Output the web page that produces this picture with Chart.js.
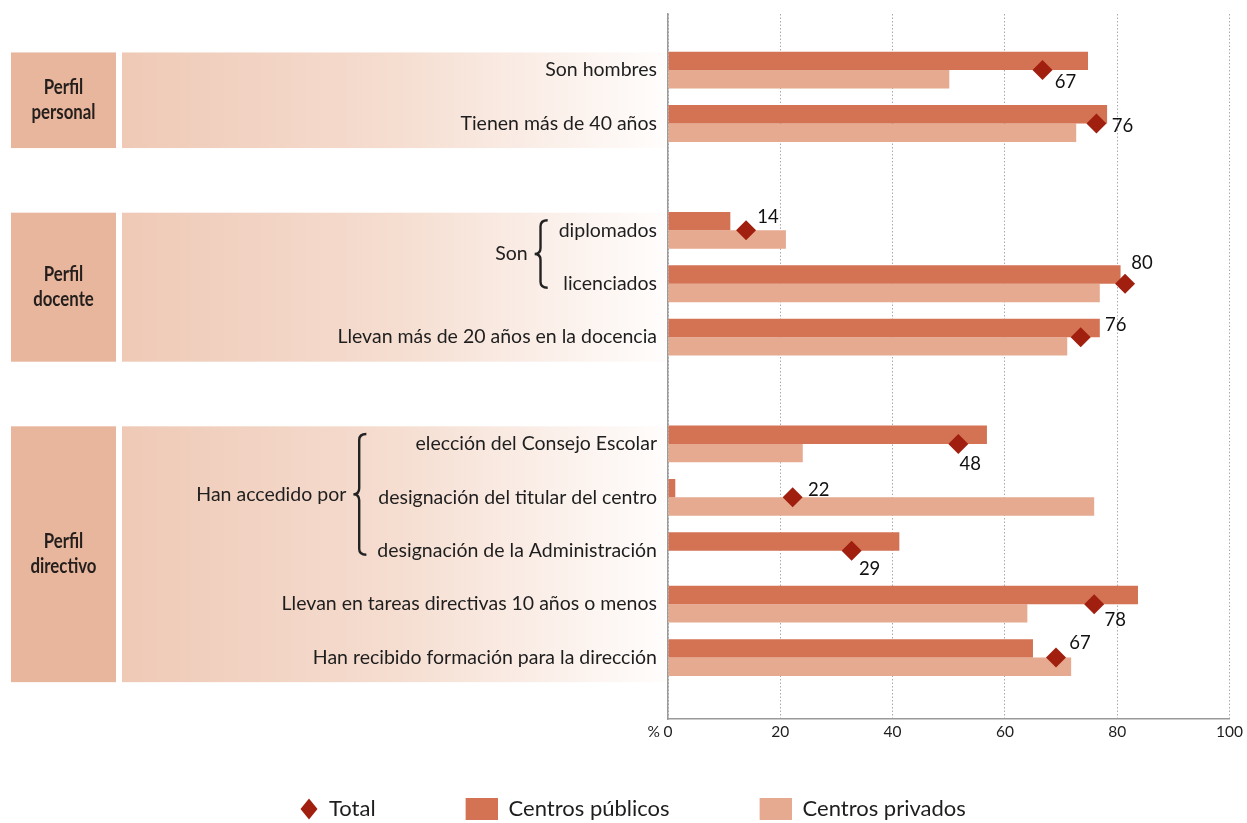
<!DOCTYPE html>
<html lang="es">
<head>
<meta charset="utf-8">
<title>Perfil del profesorado y de la dirección</title>
<script src="https://cdn.jsdelivr.net/npm/chart.js@4.4.1/dist/chart.umd.min.js"></script>
<style>
  html, body { margin: 0; padding: 0; background: #fff; }
  #wrap { width: 1247px; height: 823px; }
</style>
</head>
<body>
<div id="wrap"><canvas id="chart" width="1247" height="823"></canvas></div>
<script>
// Rows from top to bottom; empty strings are the gaps between groups
const rowLabels = [
  'Son hombres',
  'Tienen más de 40 años',
  '',
  'diplomados',
  'licenciados',
  'Llevan más de 20 años en la docencia',
  '',
  'elección del Consejo Escolar',
  'designación del titular del centro',
  'designación de la Administración',
  'Llevan en tareas directivas 10 años o menos',
  'Han recibido formación para la dirección'
];

// Values (%)
const publicos = [74.8, 78.2, null, 11.1, 80.6, 76.9, null, 56.8, 1.3, 41.2, 83.7, 65.0];
const privados = [50.1, 72.7, null, 21.0, 76.9, 71.1, null, 24.0, 75.9, 0, 64.0, 71.8];
const totalValues = [66.7, 76.3, null, 13.9, 81.4, 73.5, null, 51.7, 22.2, 32.7, 75.9, 69.1];
const totalLabels = ['67', '76', '', '14', '80', '76', '', '48', '22', '29', '78', '67'];
const xTicks = [0, 20, 40, 60, 80, 100];

const groups = [
  { title: ['Perfil', 'personal'], first: 0, last: 1 },
  { title: ['Perfil', 'docente'], first: 3, last: 5 },
  { title: ['Perfil', 'directivo'], first: 7, last: 11 }
];
const braces = [
  { text: 'Son', first: 3, last: 4 },
  { text: 'Han accedido por', first: 7, last: 9 }
];

// where each total label sits relative to its diamond (px)
const labelOffsets = [[23, 12], [26, 3], null, [22, -13], [17, -21], [35, -12], null,
  [12, 20], [26, -7], [18, 18], [21, 16], [24, -15]];

const colPublico = '#d47353';
const colPrivado = '#e6aa90';
const colTotal = '#a01f0f';
const FONT = 'Lato';

Chart.defaults.font.family = FONT;
Chart.defaults.color = '#1e1e1e';

function toPoints(values) {
  const pts = [];
  values.forEach((v, i) => { if (v !== null) pts.push({ x: v, y: i }); });
  return pts;
}

// legend symbols: drawn at the right edge of a wide box so the items space out like the original
const LEG_W = 110;
function legendSymbol(kind, color) {
  const c = document.createElement('canvas');
  c.width = LEG_W; c.height = 22;
  const g = c.getContext('2d');
  g.fillStyle = color;
  if (kind === 'diamond') {
    const cx = LEG_W - 9;
    g.beginPath();
    g.moveTo(cx, 0.5); g.lineTo(cx + 8.5, 11); g.lineTo(cx, 21.5); g.lineTo(cx - 8.5, 11);
    g.closePath(); g.fill();
  } else {
    g.fillRect(LEG_W - 32, 0, 32, 22);
  }
  return c;
}
const legendIcons = [legendSymbol('diamond', colTotal), legendSymbol('rect', colPublico), legendSymbol('rect', colPrivado)];

function drawBrace(ctx, xr, top, bottom, w) {
  const mid = (top + bottom) / 2;
  const xs = xr - w * 0.55, xt = xr - w;
  const r = 6;
  ctx.beginPath();
  ctx.moveTo(xr, top);
  ctx.quadraticCurveTo(xs, top, xs, top + r);
  ctx.lineTo(xs, mid - r);
  ctx.quadraticCurveTo(xs, mid, xt, mid);
  ctx.quadraticCurveTo(xs, mid, xs, mid + r);
  ctx.lineTo(xs, bottom - r);
  ctx.quadraticCurveTo(xs, bottom, xr, bottom);
  ctx.stroke();
}

const sidePanels = {
  id: 'sidePanels',
  beforeDraw(chart) {
    const { ctx, chartArea, scales: { y } } = chart;
    ctx.save();
    groups.forEach(gr => {
      const top = y.getPixelForValue(gr.first - 0.33);
      const bottom = y.getPixelForValue(gr.last + 0.46);
      // group title box
      ctx.fillStyle = '#e8b59d';
      ctx.fillRect(11, top, 105, bottom - top);
      // fading band behind the row labels
      const grad = ctx.createLinearGradient(122, 0, chartArea.left - 2, 0);
      grad.addColorStop(0, '#efc9b6');
      grad.addColorStop(0.5, '#f5ddd0');
      grad.addColorStop(1, '#fffdfc');
      ctx.fillStyle = grad;
      ctx.fillRect(122, top, chartArea.left - 2 - 122, bottom - top);
      // group title, slightly condensed like the original typeface
      const mid = (top + bottom) / 2;
      ctx.save();
      ctx.translate(63.5, mid);
      ctx.scale(0.82, 1);
      ctx.fillStyle = '#241f1c';
      ctx.font = 'bold 20.5px ' + FONT;
      ctx.textAlign = 'center';
      ctx.textBaseline = 'middle';
      ctx.fillText(gr.title[0], 0, -12.5);
      ctx.fillText(gr.title[1], 0, 12.5);
      ctx.restore();
    });
    // braces for the grouped sub-items
    const tickFont = y.options.ticks.font;
    const labelRight = chartArea.left - y.options.ticks.padding;
    braces.forEach(b => {
      ctx.font = tickFont.size + 'px ' + FONT;
      let widest = 0;
      for (let i = b.first; i <= b.last; i++) widest = Math.max(widest, ctx.measureText(rowLabels[i]).width);
      const xr = labelRight - widest - 11;
      const top = y.getPixelForValue(b.first) - 10;
      const bottom = y.getPixelForValue(b.last) + 4;
      ctx.strokeStyle = '#222';
      ctx.lineWidth = 2.4;
      drawBrace(ctx, xr, top, bottom, 13);
      ctx.fillStyle = '#1e1e1e';
      ctx.textAlign = 'right';
      ctx.textBaseline = 'middle';
      ctx.fillText(b.text, xr - 13 - 7, (top + bottom) / 2);
    });
    ctx.restore();
  },
  afterDatasetsDraw(chart) {
    const { ctx } = chart;
    const meta = chart.getDatasetMeta(0);
    const pts = chart.data.datasets[0].data;
    ctx.save();
    ctx.fillStyle = '#111';
    ctx.font = '18.5px ' + FONT;
    ctx.textAlign = 'center';
    ctx.textBaseline = 'middle';
    meta.data.forEach((el, j) => {
      const row = pts[j].y;
      const off = labelOffsets[row];
      ctx.fillText(totalLabels[row], el.x + off[0], el.y + off[1]);
    });
    // the "%" in front of the first tick
    const x = chart.scales.x;
    ctx.fillStyle = '#1e1e1e';
    ctx.font = '15.5px ' + FONT;
    ctx.textAlign = 'right';
    ctx.fillText('%', x.left - 8, x.top + 13);
    ctx.restore();
  }
};

const chart = new Chart(document.getElementById('chart'), {
  type: 'bar',
  data: {
    datasets: [
      {
        type: 'line',
        label: 'Total',
        data: toPoints(totalValues),
        showLine: false,
        pointStyle: 'rectRot',
        pointRadius: 10,
        pointHoverRadius: 10,
        backgroundColor: colTotal,
        borderColor: colTotal,
        borderWidth: 0
      },
      {
        label: 'Centros públicos',
        data: toPoints(publicos),
        backgroundColor: colPublico,
        categoryPercentage: 0.69,
        barPercentage: 1.0
      },
      {
        label: 'Centros privados',
        data: toPoints(privados),
        backgroundColor: colPrivado,
        categoryPercentage: 0.69,
        barPercentage: 1.0
      }
    ]
  },
  options: {
    indexAxis: 'y',
    responsive: false,
    animation: false,
    layout: { padding: { left: 196, top: 14, right: 14, bottom: -7 } },
    scales: {
      x: {
        type: 'linear',
        min: 0,
        max: 100,
        afterBuildTicks: scale => { scale.ticks = xTicks.map(v => ({ value: v })); },
        afterFit: scale => { scale.height = 67; },
        ticks: { font: { size: 15.5 }, color: '#1e1e1e', padding: 4 },
        grid: { color: '#a9a9a9', lineWidth: 1, drawTicks: false },
        border: { display: true, color: '#9a9a9a', width: 1.5, dash: [1.5, 2] }
      },
      y: {
        type: 'linear',
        reverse: true,
        offset: false,
        min: -1.05,
        max: 12.15,
        afterBuildTicks: scale => {
          scale.ticks = rowLabels.map((l, i) => ({ value: i, label: l })).filter(t => t.label !== '');
        },
        afterFit: scale => {
          scale.width = 472;
          scale.paddingTop = 0;
          scale.paddingBottom = 0;
        },
        ticks: {
          font: { size: 19.5 },
          color: '#1e1e1e',
          padding: 11,
          autoSkip: false,
          callback: value => rowLabels[value]
        },
        grid: { display: false, drawTicks: false, offset: false },
        border: { display: true, color: '#9a9a9a', width: 1.5 }
      }
    },
    plugins: {
      legend: {
        position: 'bottom',
        align: 'start',
        labels: {
          usePointStyle: true,
          pointStyleWidth: LEG_W,
          padding: 12,
          color: '#1e1e1e',
          font: { size: 22 },
          generateLabels: ch => {
            const items = Chart.defaults.plugins.legend.labels.generateLabels(ch);
            items.forEach((it, i) => { it.pointStyle = legendIcons[i]; });
            return items;
          }
        }
      },
      tooltip: { enabled: false }
    }
  },
  plugins: [sidePanels]
});
</script>
</body>
</html>
